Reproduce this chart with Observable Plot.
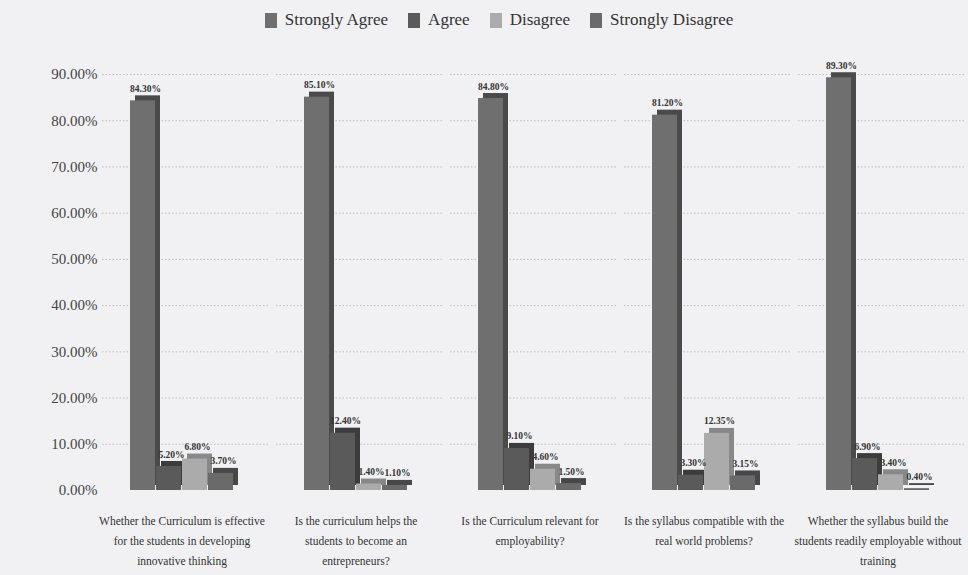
<!DOCTYPE html>
<html>
<head>
<meta charset="utf-8">
<script src="https://cdn.jsdelivr.net/npm/d3@7"></script>
<script src="https://cdn.jsdelivr.net/npm/@observablehq/plot@0.6"></script>
<style>
  body { margin: 0; background: #f1f1f3; font-family: "Liberation Serif", "DejaVu Serif", serif; }
  #legend { height: 40px; display: flex; justify-content: center; align-items: center; gap: 20px; font-size: 17px; color: #333; padding-left: 30px; box-sizing: border-box; }
  #legend span.item { display: inline-flex; align-items: center; gap: 8px; }
  #legend span.sw { width: 12px; height: 15px; display: inline-block; }
</style>
</head>
<body>
<div id="legend"></div>
<div id="chart"></div>
<script>
const questions = [
  "Whether the Curriculum is effective\nfor the students in developing\ninnovative thinking",
  "Is the curriculum helps the\nstudents to become an\nentrepreneurs?",
  "Is the Curriculum relevant for\nemployability?",
  "Is the syllabus compatible with the\nreal world problems?",
  "Whether the syllabus build the\nstudents readily employable without\ntraining"
];
const series = ["Strongly Agree", "Agree", "Disagree", "Strongly Disagree"];
const stronglyAgree = [84.30, 85.10, 84.80, 81.20, 89.30];
const agree = [5.20, 12.40, 9.10, 3.30, 6.90];
const disagree = [6.80, 1.40, 4.60, 12.35, 3.40];
const stronglyDisagree = [3.70, 1.10, 1.50, 3.15, 0.40];
const yTicks = [0, 10, 20, 30, 40, 50, 60, 70, 80, 90];
const colors = ["#6f6f6f", "#5a5a5a", "#ababab", "#6a6a6a"];
const sideColors = ["#4a4a4a", "#3c3c3c", "#888888", "#474747"];

const valuesBySeries = [stronglyAgree, agree, disagree, stronglyDisagree];
const data = [];
questions.forEach((q, i) => {
  series.forEach((s, j) => {
    data.push({question: q, series: s, value: valuesBySeries[j][i]});
  });
});

const legend = document.getElementById("legend");
series.forEach((s, j) => {
  const item = document.createElement("span");
  item.className = "item";
  item.innerHTML = `<span class="sw" style="background:${colors[j]}"></span>${s}`;
  legend.appendChild(item);
});

const chart = Plot.plot({
  width: 968,
  height: 535,
  marginTop: 34,
  marginBottom: 85,
  marginLeft: 94,
  marginRight: 2,
  style: {background: "transparent", fontFamily: "'Liberation Serif', 'DejaVu Serif', serif"},
  fx: {domain: questions, paddingInner: 0.383, paddingOuter: 0.183, axis: null},
  x: {domain: series, padding: 0, axis: null},
  y: {domain: [0, 90], label: null},
  color: {domain: series, range: colors},
  marks: [
    Plot.ruleY(yTicks.filter(d => d > 0), {stroke: "#999", strokeOpacity: 0.6, strokeDasharray: "1.5,2", insetLeft: -26, insetRight: -34}),
    Plot.axisY(yTicks, {tickSize: 0, tickPadding: 31, tickFormat: d => d.toFixed(2) + "%", fontSize: 15, fill: "#444", label: null}),
    Plot.barY(data, {fx: "question", x: "series", y: "value", fill: d => sideColors[series.indexOf(d.series)], dx: 5, dy: -5, insetRight: 1}),
    Plot.barY(data, {fx: "question", x: "series", y: "value", fill: "series", insetRight: 1}),
    Plot.text(data, {fx: "question", x: "series", y: "value", text: d => d.value.toFixed(2) + "%", dy: -12, dx: 2, fontSize: 9.5, fontWeight: "bold", fill: "#333"}),
    Plot.text(questions, {fx: d => d, frameAnchor: "bottom", lineAnchor: "top", dy: 20, text: d => d, fontSize: 11.5, lineHeight: 1.75, fill: "#333"})
  ]
});
document.getElementById("chart").appendChild(chart);
</script>
</body>
</html>
